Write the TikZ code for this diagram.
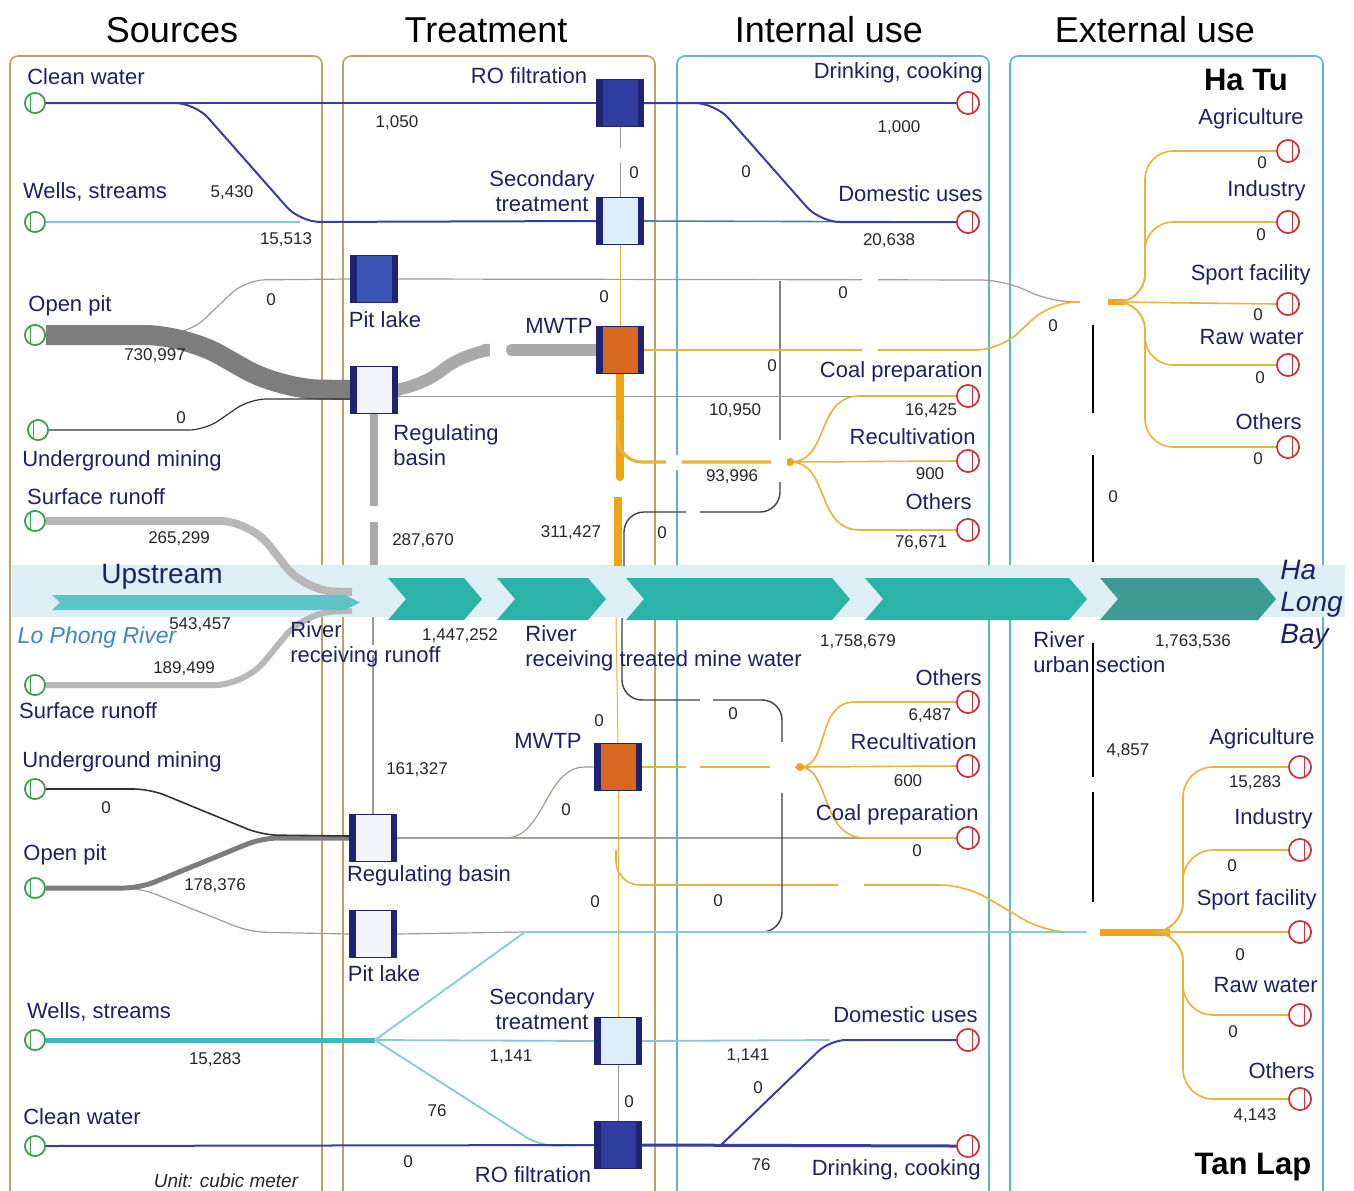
\documentclass[tikz,border=0pt]{standalone}
\usepackage{fontspec}
\setmainfont{Liberation Sans}
\usetikzlibrary{calc}
\definecolor{olivep}{HTML}{B9A466}
\definecolor{tealp}{HTML}{5CB8C2}
\definecolor{txtnavy}{HTML}{1F2160}
\definecolor{flownavy}{HTML}{3A3C9E}
\definecolor{wellteal}{HTML}{86CBD3}
\definecolor{wellthick}{HTML}{45B5C2}
\definecolor{pitgray}{HTML}{7D7D7D}
\definecolor{midgray}{HTML}{A9A9A9}
\definecolor{lgray}{HTML}{B8B8B8}
\definecolor{bgray}{HTML}{A39C94}
\definecolor{yelc}{HTML}{E6B43A}
\definecolor{orng}{HTML}{F2A313}
\definecolor{bandc}{HTML}{DDEFF5}
\definecolor{upteal}{HTML}{5CC5C8}
\definecolor{chev}{HTML}{2BB3A8}
\definecolor{chevd}{HTML}{3E9A94}
\definecolor{srcg}{HTML}{3F9E4B}
\definecolor{sinkr}{HTML}{C9353D}
\definecolor{boxnavy}{HTML}{1E2472}
\definecolor{rofill}{HTML}{2F3E9E}
\definecolor{secfill}{HTML}{DDEEF8}
\definecolor{plfill}{HTML}{3B55B6}
\definecolor{mwfill}{HTML}{D8681F}
\definecolor{rbfill}{HTML}{F3F3FA}
\definecolor{lophong}{HTML}{3D85C6}
\begin{document}
\begin{tikzpicture}[x=0.5pt,y=-0.5pt,
  tbox/.style={draw=boxnavy, line width=0.6pt, minimum width=23.5pt, minimum height=23.5pt, inner sep=0pt,
    path picture={\fill[boxnavy] (path picture bounding box.north west) rectangle ([xshift=3pt]path picture bounding box.south west);
                  \fill[boxnavy] (path picture bounding box.north east) rectangle ([xshift=-3pt]path picture bounding box.south east);}},
  src/.style={circle, draw=srcg, line width=0.8pt, minimum size=10pt, inner sep=0pt, fill=white,
    path picture={\draw[srcg, line width=0.6pt] ([xshift=-2.2pt]path picture bounding box.north) -- ([xshift=-2.2pt]path picture bounding box.south);}},
  sink/.style={circle, draw=sinkr, line width=0.8pt, minimum size=11pt, inner sep=0pt, fill=white,
    path picture={\draw[sinkr, line width=0.6pt] ([xshift=2.4pt]path picture bounding box.north) -- ([xshift=2.4pt]path picture bounding box.south);}},
  panelo/.style={draw=olivep, line width=0.8pt, rounded corners=4pt},
  panelt/.style={draw=tealp, line width=0.8pt, rounded corners=4pt},
  navyl/.style={draw=flownavy, line width=1pt},
  bluel/.style={draw=flownavy!60!wellteal, line width=0.8pt},
  teall/.style={draw=wellteal, line width=0.9pt},
  thingray/.style={draw=gray!80, line width=0.5pt},
  browngray/.style={draw=bgray, line width=0.6pt},
  darkthin/.style={draw=black!75, line width=0.7pt},
  blackthin/.style={draw=black!80, line width=0.6pt},
  yelline/.style={draw=yelc, line width=0.8pt},
  yelthin/.style={draw=yelc, line width=0.5pt},
  orangethick/.style={draw=orng, line width=4pt},
  gapw/.style={fill=white},
  lab/.style={font=\fontsize{11}{12.5}\selectfont, text=txtnavy, inner sep=0pt},
  num/.style={font=\fontsize{8.5}{10}\selectfont, text=black!85, inner sep=0pt},
  ttl/.style={font=\fontsize{18}{20}\selectfont, text=black, inner sep=0pt},
  big/.style={font=\fontsize{15.5}{17}\selectfont\bfseries, text=black, inner sep=0pt}
]
\useasboundingbox (0,0) rectangle (1354,1190);
\fill[white] (0,0) rectangle (1354,1190);

% panels
\draw[panelo] (10,1200) -- (10,56) -- (322,56) -- (322,1200);
\draw[panelo] (343,1200) -- (343,56) -- (655,56) -- (655,1200);
\draw[panelt] (677,1200) -- (677,56) -- (989,56) -- (989,1200);
\draw[panelt] (1010,1200) -- (1010,56) -- (1323,56) -- (1323,1200);

% titles
\node[ttl] (T1) at (172,30) {Sources};
\node[ttl] (T2) at (486,30) {Treatment};
\node[ttl] (T3) at (829,30) {Internal use};
\node[ttl] (T4) at (1155,30) {External use};

% river band
\fill[bandc] (12,565) rectangle (1345,617);

% junction coordinates
\coordinate (hatuin) at (1080,302);
\coordinate (hatu) at (1108,302);
\coordinate (tanlapin) at (1086,932);
\coordinate (tanlap) at (1100,932);
\coordinate (fanA) at (790,462);
\coordinate (fanB) at (800,767);

% nodes: sources
\node[src] (s1) at (35,103) {};
\node[src] (s2) at (35,222) {};
\node[src] (s3) at (35,335) {};
\node[src] (s4) at (38,430) {};
\node[src] (s5) at (35,521) {};
\node[src] (s6) at (35,685) {};
\node[src] (s7) at (35,789) {};
\node[src] (s8) at (35,888) {};
\node[src] (s9) at (35,1040) {};
\node[src] (s10) at (35,1146) {};
% sinks
\node[sink] (k1) at (968,103) {};
\node[sink] (k2) at (968,222) {};
\node[sink] (k3) at (968,396) {};
\node[sink] (k4) at (968,461) {};
\node[sink] (k5) at (968,530) {};
\node[sink] (k6) at (968,702) {};
\node[sink] (k7) at (968,766) {};
\node[sink] (k8) at (968,838) {};
\node[sink] (k9) at (968,1040) {};
\node[sink] (k10) at (968,1146) {};
\node[sink] (e1) at (1288,151) {};
\node[sink] (e2) at (1288,222) {};
\node[sink] (e3) at (1288,304) {};
\node[sink] (e4) at (1288,365) {};
\node[sink] (e5) at (1288,447) {};
\node[sink] (e6) at (1300,767) {};
\node[sink] (e7) at (1300,850) {};
\node[sink] (e8) at (1300,932) {};
\node[sink] (e9) at (1300,1015) {};
\node[sink] (e10) at (1300,1099) {};
% treatment boxes (placed now for anchors, redrawn later on top)
\path (620,103) node[tbox, fill=rofill] (ro1) {};
\path (620,221) node[tbox, fill=secfill] (st1) {};
\path (374,279) node[tbox, fill=plfill] (pl1) {};
\path (620,350) node[tbox, fill=mwfill] (mw1) {};
\path (374,390) node[tbox, fill=rbfill] (rb1) {};
\path (618,767) node[tbox, fill=mwfill] (mw2) {};
\path (373,838) node[tbox, fill=rbfill] (rb2) {};
\path (373,934) node[tbox, fill=rbfill] (pl2) {};
\path (618,1041) node[tbox, fill=secfill] (st2) {};
\path (618,1145) node[tbox, fill=rofill] (ro2) {};

% ---------- top flows ----------
\draw[teall] (s2.east) -- (300,222);
\draw[navyl] (s1.east) -- (ro1.west);
\draw[navyl, rounded corners=10pt] (s1.east) -- (195,103) -- (300,222) -- (st1.west);
\draw[navyl] (ro1.east) -- (k1.west);
\draw[bluel] (st1.east) -- (k2.west);
\draw[navyl, rounded corners=10pt] (ro1.east) -- (715,103) -- (820,222) -- (k2.west);
\draw[thingray] (ro1.south) -- (st1.north);
\draw[yelthin] (st1.south) -- (mw1.north);

\draw[browngray, rounded corners=10pt] (s3.east) -- (190,333) -- (245,280) -- (pl1.west);
\draw[pitgray, line width=10pt, rounded corners=20pt] (s3.east) -- (185,335) -- (280,389) -- (rb1.west);
\draw[blackthin, rounded corners=8pt] (s4.east) -- (205,430) -- (250,399) -- ($(rb1.west)+(0,9)$);

\draw[browngray, rounded corners=12pt] (pl1.east) -- (1005,280) -- (1050,302) -- (hatuin);
\draw[darkthin, rounded corners=10pt] (780,281) -- (780,512) -- (624,512) -- (624,566);

\draw[midgray, line width=6pt, line cap=round, rounded corners=15pt] (rb1.east) -- (420,389) -- (465,351) -- (485,350);
\draw[midgray, line width=6pt, line cap=round] (512,350) -- (mw1.west);
\draw[thingray] (rb1.east |- k3.west) -- (k3.west);
\draw[midgray, line width=4pt, line cap=round] (rb1.south) -- ++(0,91);
\draw[midgray, line width=4pt] (374,522) -- (374,565);

\draw[yelline, rounded corners=12pt] (mw1.east) -- (1000,350) -- (1050,303) -- (hatuin);
\draw[orangethick, line cap=round] (mw1.south) -- ++(0,103);
\draw[orangethick] (618,497) -- (618,566);
\draw[draw=yelc, line width=1.6pt, rounded corners=12pt] (618,420) -- (618,462) -- (fanA);
\draw[yelline] (fanA) .. controls (830,462) and (815,396) .. (860,396) -- (k3.west);
\draw[yelline] (fanA) -- (k4.west);
\draw[yelline] (fanA) .. controls (830,462) and (815,530) .. (860,530) -- (k5.west);
\fill[orng] (790,462) circle (2pt);

\draw[lgray, line width=4pt, rounded corners=15pt] (s5.east) -- (250,521) -- (305,591) -- (352,592);
\draw[lgray, line width=3pt, rounded corners=15pt] (s6.east) -- (245,685) -- (305,612) -- (352,611);

% gaps top
\fill[gapw] (490,340) rectangle (505,360);
\fill[gapw] (862,272) rectangle (878,288);
\fill[gapw] (862,342) rectangle (878,358);
\fill[gapw] (612,148) rectangle (628,163);
\fill[gapw] (771,440) rectangle (787,482);
\fill[gapw] (666,455) rectangle (682,470);
\fill[gapw] (686,505) rectangle (700,520);
\fill[gapw] (366,506) rectangle (382,521);

% Ha Tu junction
\draw[orangethick, line width=3pt] (hatu) -- (1125,302);
\draw[yelline, rounded corners=14pt] (1115,302) -| (1145,151) -- (e1.west);
\draw[yelline, rounded corners=14pt] (1115,302) -| (1145,222) -- (e2.west);
\draw[yelline] (1115,302) -- (e3.west);
\draw[yelline, rounded corners=14pt] (1115,302) -| (1145,365) -- (e4.west);
\draw[yelline, rounded corners=14pt] (1115,302) -| (1145,447) -- (e5.west);

% black verticals (River urban section)
\draw[black, line width=1pt] (1093,325) -- (1093,413);
\draw[black, line width=1pt] (1093,455) -- (1093,562);
\draw[black, line width=1pt] (1093,643) -- (1093,777);
\draw[black, line width=1pt] (1093,792) -- (1093,902);

% ---------- river ----------
\fill[upteal] (52,595) -- (345,595) -- (360,602.5) -- (345,610) -- (52,610) -- (60,602.5) -- cycle;
\foreach \a/\b/\c in {388/482/chev, 497/606/chev, 626/850/chev, 865/1087/chev, 1100/1276/chevd}
  \fill[\c] (\a,578) -- (\b-18,578) -- (\b,599) -- (\b-18,620) -- (\a,620) -- (\a+18,599) -- cycle;

% ---------- bottom flows ----------
\draw[thingray, line width=0.8pt] (rb2.north) -- (373,617);
\draw[browngray, rounded corners=8pt] (s8.east) -- (140,888) -- (250,932) -- (pl2.west);
\draw[pitgray, line width=2.5pt, rounded corners=8pt] (s8.east) -- (140,888) -- (262,838) -- (rb2.west);
\draw[blackthin, line width=0.8pt, rounded corners=8pt] (s7.east) -- (150,789) -- (262,835) -- ($(rb2.west)+(0,-2)$);

\draw[browngray] (rb2.east) -- (k8.west);
\draw[browngray] (505,838) .. controls (545,838) and (545,767) .. (585,767) -- (mw2.west);

\draw[yelthin] (mw2.north) -- (616,617);
\draw[yelthin] (mw2.south) -- (st2.north);
\draw[thingray] (st2.south) -- (ro2.north);
\draw[yelline, rounded corners=12pt] (616,850) -- (616,885) -- (965,885) -- (1045,932) -- (tanlapin);

\draw[darkthin, rounded corners=10pt] (622,618) -- (622,700) -- (782,700) -- (782,932) -- (755,932);

\draw[browngray] (pl2.east) -- (525,932);
\draw[teall] (525,932) -- (tanlapin);
\draw[draw=wellthick, line width=2.5pt] (s9.east) -- (375,1040);
\draw[teall] (375,1040) -- (st2.west);
\draw[teall] (375,1040) -- (525,932);
\draw[teall, rounded corners=8pt] (375,1040) -- (540,1146) -- (ro2.west);
\draw[teall] (st2.east) -- (830,1040);
\draw[navyl] (s10.east) -- (ro2.west);
\draw[navyl, line width=1.5pt] (ro2.east) -- (k10.west);
\draw[navyl, rounded corners=8pt] (720,1146) -- (830,1040) -- (k9.west);

\draw[draw=yelc, line width=1.2pt] (mw2.east) -- (fanB);
\draw[yelline] (fanB) .. controls (830,767) and (815,702) .. (855,702) -- (k6.west);
\draw[yelline] (fanB) -- (k7.west);
\draw[yelline] (fanB) .. controls (830,767) and (820,838) .. (865,838) -- (k8.west);
\fill[orng] (800,767) circle (2pt);

% gaps bottom
\fill[gapw] (686,760) rectangle (700,774);
\fill[gapw] (770,760) rectangle (795,774);
\fill[gapw] (774,742) rectangle (790,793);
\fill[gapw] (700,693) rectangle (713,707);
\fill[gapw] (838,878) rectangle (864,892);
\fill[gapw] (366,645) rectangle (380,655);

% Tan Lap junction
\draw[orangethick, line width=3.5pt] (tanlap) -- (1170,932);
\draw[yelline, rounded corners=15pt] (1160,932) -| (1183,767) -- (e6.west);
\draw[yelline, rounded corners=15pt] (1160,932) -| (1183,850) -- (e7.west);
\draw[yelline] (1160,932) -- (e8.west);
\draw[yelline, rounded corners=15pt] (1160,932) -| (1183,1015) -- (e9.west);
\draw[yelline, rounded corners=15pt] (1160,932) -| (1183,1099) -- (e10.west);

% redraw boxes and circles on top
\foreach \n/\f/\p in {ro1/rofill/{(620,103)}, st1/secfill/{(620,221)}, pl1/plfill/{(374,279)}, mw1/mwfill/{(620,350)}, rb1/rbfill/{(374,390)}, mw2/mwfill/{(618,767)}, rb2/rbfill/{(373,838)}, pl2/rbfill/{(373,934)}, st2/secfill/{(618,1041)}, ro2/rofill/{(618,1145)}}
  \path \p node[tbox, fill=\f] (\n-top) {};
\foreach \p in {(35,103),(35,222),(35,335),(38,430),(35,521),(35,685),(35,789),(35,888),(35,1040),(35,1146)}
  \path \p node[src] {};
\foreach \p in {(968,103),(968,222),(968,396),(968,461),(968,530),(968,702),(968,766),(968,838),(968,1040),(968,1146),(1288,151),(1288,222),(1288,304),(1288,365),(1288,447),(1300,767),(1300,850),(1300,932),(1300,1015),(1300,1099)}
  \path \p node[sink] {};

% ---------- text labels ----------
\node[lab] (a1) at (86,77) {Clean water};
\node[lab] (a2) at (95,192) {Wells, streams};
\node[lab] (a3) at (70,306) {Open pit};
\node[lab] (a4) at (122,461) {Underground mining};
\node[lab] (a5) at (96,497) {Surface runoff};
\node[lab] (a6) at (88,711) {Surface runoff};
\node[lab] (a7) at (122,762) {Underground mining};
\node[lab] (a8) at (65,855) {Open pit};
\node[lab] (a9) at (99,1012) {Wells, streams};
\node[lab] (a10) at (82,1117) {Clean water};
\node[lab, font=\fontsize{9.5}{11}\selectfont\itshape, text=black!85] (a11) at (226,1181) {Unit: cubic meter};

\node[lab] (b1) at (529,76) {RO filtration};
\node[lab, align=center] (b2) at (542,191) {Secondary\\treatment};
\node[lab] (b3) at (385,320) {Pit lake};
\node[lab] (b4) at (559,326) {MWTP};
\node[lab, align=left, anchor=west] (b5) at (393,445) {Regulating\\basin};
\node[lab] (b6) at (548,741) {MWTP};
\node[lab] (b7) at (429,876) {Regulating basin};
\node[lab] (b8) at (384,974) {Pit lake};
\node[lab, align=center] (b9) at (542,1009) {Secondary\\treatment};
\node[lab] (b10) at (533,1175) {RO filtration};

\node[lab, align=left, anchor=west] (r1) at (290,644) {River\\receiving runoff};
\node[lab, align=left, anchor=west] (r2) at (525,648) {River\\receiving treated mine water};
\node[lab, align=left, anchor=west] (r3) at (1033,652) {River\\urban section};
\node[lab, font=\fontsize{14}{15}\selectfont] (r4) at (162,577) {Upstream};
\node[lab, font=\fontsize{11.5}{13}\selectfont\itshape, text=lophong] (r5) at (97,638) {Lo Phong River};
\node[lab, font=\fontsize{14}{16}\selectfont\itshape, align=left, anchor=west] (r6) at (1280,605) {Ha\\Long\\Bay};

\node[lab, anchor=east] (c1) at (983,73) {Drinking, cooking};
\node[lab, anchor=east] (c2) at (983,194) {Domestic uses};
\node[lab, anchor=east] (c3) at (983,372) {Coal preparation};
\node[lab, anchor=east] (c4) at (976,437) {Recultivation};
\node[lab, anchor=east] (c5) at (972,502) {Others};
\node[lab, anchor=east] (c6) at (982,678) {Others};
\node[lab, anchor=east] (c7) at (977,742) {Recultivation};
\node[lab, anchor=east] (c8) at (979,815) {Coal preparation};
\node[lab, anchor=east] (c9) at (978,1015) {Domestic uses};
\node[lab, anchor=east] (c10) at (981,1170) {Drinking, cooking};

\node[big] (d0) at (1246,80) {Ha Tu};
\node[lab, anchor=east] (d1) at (1304,119) {Agriculture};
\node[lab, anchor=east] (d2) at (1306,191) {Industry};
\node[lab, anchor=east] (d3) at (1311,275) {Sport facility};
\node[lab, anchor=east] (d4) at (1304,337) {Raw water};
\node[lab, anchor=east] (d5) at (1302,422) {Others};
\node[lab, anchor=east] (d6) at (1315,739) {Agriculture};
\node[lab, anchor=east] (d7) at (1313,819) {Industry};
\node[lab, anchor=east] (d8) at (1317,900) {Sport facility};
\node[lab, anchor=east] (d9) at (1318,985) {Raw water};
\node[lab, anchor=east] (d10) at (1315,1071) {Others};
\node[big] (d11) at (1253,1167) {Tan Lap};

% numbers
\node[num] (n1) at (232,193) {5,430};
\node[num] (n2) at (397,123) {1,050};
\node[num] (n3) at (286,240) {15,513};
\node[num] (n4) at (899,128) {1,000};
\node[num] (n5) at (746,172) {0};
\node[num] (n6) at (634,173) {0};
\node[num] (n7) at (889,241) {20,638};
\node[num] (n8) at (271,300) {0};
\node[num] (n9) at (843,293) {0};
\node[num] (n10) at (604,297) {0};
\node[num] (n11) at (155,356) {730,997};
\node[num] (n12) at (772,366) {0};
\node[num] (n13) at (1053,326) {0};
\node[num] (n14) at (181,418) {0};
\node[num] (n15) at (735,411) {10,950};
\node[num] (n16) at (931,411) {16,425};
\node[num] (n17) at (930,474) {900};
\node[num] (n18) at (732,477) {93,996};
\node[num] (n19) at (921,543) {76,671};
\node[num] (n20) at (1113,497) {0};
\node[num] (n21) at (179,539) {265,299};
\node[num] (n22) at (423,541) {287,670};
\node[num] (n23) at (571,533) {311,427};
\node[num] (n24) at (662,533) {0};
\node[num] (n25) at (200,625) {543,457};
\node[num] (n26) at (460,636) {1,447,252};
\node[num] (n27) at (858,642) {1,758,679};
\node[num] (n28) at (1193,642) {1,763,536};
\node[num] (n29) at (184,669) {189,499};
\node[num] (n30) at (1262,163) {0};
\node[num] (n31) at (1261,235) {0};
\node[num] (n32) at (1258,315) {0};
\node[num] (n33) at (1260,378) {0};
\node[num] (n34) at (1258,459) {0};
\node[num] (m1) at (733,714) {0};
\node[num] (m2) at (930,716) {6,487};
\node[num] (m3) at (599,721) {0};
\node[num] (m4) at (1128,751) {4,857};
\node[num] (m5) at (417,770) {161,327};
\node[num] (m6) at (908,781) {600};
\node[num] (m7) at (1255,783) {15,283};
\node[num] (m8) at (106,808) {0};
\node[num] (m9) at (566,810) {0};
\node[num] (m10) at (917,851) {0};
\node[num] (m11) at (1232,866) {0};
\node[num] (m12) at (215,886) {178,376};
\node[num] (m13) at (595,902) {0};
\node[num] (m14) at (718,901) {0};
\node[num] (m15) at (1240,955) {0};
\node[num] (m16) at (1233,1032) {0};
\node[num] (m17) at (215,1060) {15,283};
\node[num] (m18) at (511,1057) {1,141};
\node[num] (m19) at (748,1056) {1,141};
\node[num] (m20) at (758,1088) {0};
\node[num] (m21) at (629,1102) {0};
\node[num] (m22) at (437,1111) {76};
\node[num] (m23) at (1255,1116) {4,143};
\node[num] (m24) at (408,1162) {0};
\node[num] (m25) at (761,1165) {76};
\end{tikzpicture}
\end{document}
